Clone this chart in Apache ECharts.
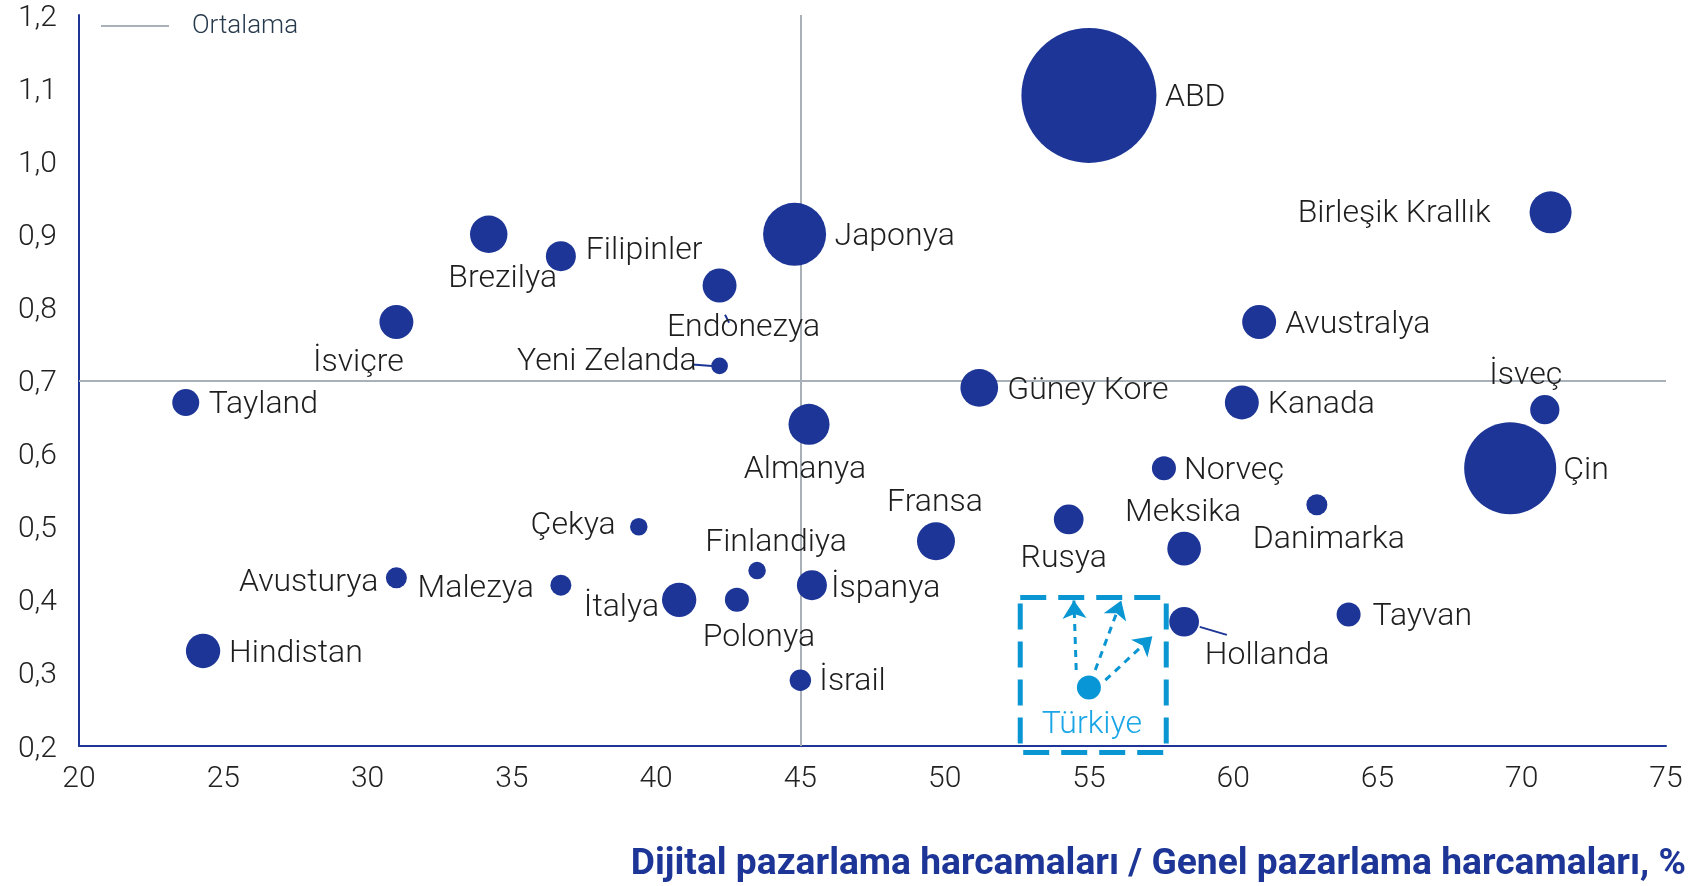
<!DOCTYPE html>
<html>
<head>
<meta charset="utf-8">
<script src="https://cdn.jsdelivr.net/npm/echarts@6/dist/echarts.min.js"></script>
<style>
html,body{margin:0;padding:0;background:#fff;}
#chart{width:1688px;height:886px;}
</style>
</head>
<body>
<div id="chart"></div>
<script>
// ---- Data ----
const countries = ['ABD','Birleşik Krallık','Japonya','Brezilya','Filipinler','Endonezya','İsviçre','Yeni Zelanda','Avustralya','Güney Kore','Tayland','Kanada','İsveç','Almanya','Çin','Norveç','Danimarka','Rusya','Meksika','Fransa','Çekya','Finlandiya','İspanya','Avusturya','Malezya','İtalya','Polonya','Tayvan','Hollanda','Hindistan','İsrail'];
const digitalShare = [55.0, 71.0, 44.8, 34.2, 36.7, 42.2, 31.0, 42.2, 60.9, 51.2, 23.7, 60.3, 70.8, 45.3, 69.6, 57.6, 62.9, 54.3, 58.3, 49.7, 39.4, 43.5, 45.4, 31.0, 36.7, 40.8, 42.8, 64.0, 58.3, 24.3, 45.0];
const yValues = [1.09, 0.93, 0.90, 0.90, 0.87, 0.83, 0.78, 0.72, 0.78, 0.69, 0.67, 0.67, 0.66, 0.64, 0.58, 0.58, 0.53, 0.51, 0.47, 0.48, 0.50, 0.44, 0.42, 0.43, 0.42, 0.40, 0.40, 0.38, 0.37, 0.33, 0.29];
const bubbleSize = [2025, 196, 441, 156, 100, 128, 128, 31, 128, 158, 81, 128, 95, 187, 940, 64, 49, 98, 126, 160, 34, 34, 100, 49, 49, 131, 64, 64, 98, 131, 51];

const turkeyName = 'Türkiye';
const turkeyValue = [55.0, 0.28, 64];

const averageX = 45;
const averageY = 0.7;

const xTicks = {min: 20, max: 75, interval: 5};
const yTicks = {min: 0.2, max: 1.2, interval: 0.1};

const xAxisTitle = 'Dijital pazarlama harcamaları / Genel pazarlama harcamaları, %';
const legendName = 'Ortalama';

// annotation geometry in data units
const turkeyBox = [52.62, 0.403, 57.68, 0.191];
const turkeyArrows = [
  [[54.56, 0.304], [54.48, 0.399]],
  [[55.22, 0.304], [56.12, 0.399]],
  [[55.57, 0.290], [57.2, 0.350]]
];
const leaderLines = [
  [[41.25, 0.722], [41.94, 0.720]],
  [[42.39, 0.790], [42.53, 0.779]],
  [[58.84, 0.363], [59.78, 0.352]]
];

// ---- label placement (style) ----
const labelDy = 2;
const labelPlace = {
  'ABD': ['left', 76, 1],
  'Birleşik Krallık': ['right', -60, 0],
  'Japonya': ['left', 40, 1],
  'Brezilya': ['center', 14, 43],
  'Filipinler': ['left', 25, -7],
  'Endonezya': ['center', 24, 41],
  'İsviçre': ['center', -38, 39],
  'Yeni Zelanda': ['right', -23, -6],
  'Avustralya': ['left', 26, 1],
  'Güney Kore': ['left', 28, 1],
  'Tayland': ['left', 23, 1],
  'Kanada': ['left', 26, 1],
  'İsveç': ['center', -19, -36],
  'Almanya': ['center', -4, 44],
  'Çin': ['left', 53, 1],
  'Norveç': ['left', 20, 1],
  'Danimarka': ['center', 12, 33],
  'Rusya': ['center', -5, 38],
  'Meksika': ['center', -1, -38],
  'Fransa': ['center', -1, -40],
  'Çekya': ['right', -23, -3],
  'Finlandiya': ['center', 19, -30],
  'İspanya': ['left', 19, 2],
  'Avusturya': ['right', -18, 3],
  'Malezya': ['right', -27, 2],
  'İtalya': ['right', -20, 6],
  'Polonya': ['center', 22, 36],
  'Tayvan': ['left', 24, 1],
  'Hollanda': ['center', 83, 32],
  'Hindistan': ['left', 26, 1],
  'İsrail': ['left', 19, 0],
  'Türkiye': ['center', 3, 35]
};

const navy = '#1c3596';
const lightBlue = '#0a96d2';
const fontFamily = 'Roboto, "Noto Sans", sans-serif';

function mkItem(name, value) {
  const p = labelPlace[name] || ['left', 20, 0];
  return {
    name: name,
    value: value,
    label: {align: p[0], offset: [p[1], p[2] + labelDy]}
  };
}

const mainData = countries.map((c, i) => mkItem(c, [digitalShare[i], yValues[i], bubbleSize[i]]));
const turkeyData = [mkItem(turkeyName, turkeyValue)];

const chart = echarts.init(document.getElementById('chart'));

const labelBase = {
  show: true,
  position: 'inside',
  verticalAlign: 'middle',
  formatter: '{b}',
  fontSize: 32,
  fontWeight: 300,
  fontFamily: fontFamily,
  color: '#1e1e1e',
  textBorderWidth: 0
};

chart.setOption({
  animation: false,
  grid: {left: 79, right: 22, top: 15, bottom: 140},
  legend: {
    data: [legendName],
    left: 96,
    top: 8,
    icon: 'rect',
    itemWidth: 68,
    itemHeight: 2,
    itemStyle: {color: '#a9b0b8'},
    textStyle: {fontSize: 26, fontWeight: 300, fontFamily: fontFamily, color: '#27394c', padding: [0, 0, 0, 18]}
  },
  xAxis: {
    type: 'value',
    min: xTicks.min, max: xTicks.max, interval: xTicks.interval,
    splitLine: {show: false},
    axisTick: {show: false},
    axisLine: {show: true, lineStyle: {color: navy, width: 2}},
    axisLabel: {fontSize: 30, fontWeight: 300, fontFamily: fontFamily, color: '#222', margin: 18}
  },
  yAxis: {
    type: 'value',
    min: yTicks.min, max: yTicks.max, interval: yTicks.interval,
    splitLine: {show: false},
    axisTick: {show: false},
    axisLine: {show: true, lineStyle: {color: navy, width: 2}},
    axisLabel: {
      margin: 22,
      formatter: v => '{t|' + v.toFixed(1).replace('.', ',') + '}',
      rich: {
        t: {fontSize: 30, fontWeight: 300, fontFamily: fontFamily, color: '#222', padding: [6, 0, 0, 0]}
      }
    }
  },
  graphic: [{
    type: 'text',
    right: 2,
    top: 846,
    style: {
      text: xAxisTitle,
      fontSize: 37.2,
      fontWeight: 'bold',
      fontFamily: fontFamily,
      fill: navy
    }
  }],
  series: [
    {
      name: legendName,
      type: 'line',
      data: [],
      z: 1,
      clip: false,
      color: '#a9b0b8',
      markLine: {
        silent: true,
        symbol: 'none',
        label: {show: false},
        lineStyle: {color: '#a9b0b8', width: 2, type: 'solid'},
        data: [{xAxis: averageX}, {yAxis: averageY}]
      }
    },
    {
      name: 'leaders',
      type: 'line',
      data: [],
      z: 2,
      clip: false,
      markLine: {
        silent: true,
        symbol: 'none',
        label: {show: false},
        lineStyle: {color: navy, width: 2, type: 'solid'},
        data: leaderLines.map(l => [{coord: l[0]}, {coord: l[1]}])
      }
    },
    {
      name: 'arrows',
      type: 'line',
      data: [],
      z: 4,
      clip: false,
      markLine: {
        silent: true,
        symbol: ['none', 'arrow'],
        symbolSize: 18,
        label: {show: false},
        lineStyle: {color: lightBlue, width: 3, type: [7, 6]},
        data: turkeyArrows.map(l => [{coord: l[0]}, {coord: l[1]}])
      }
    },
    {
      name: 'box',
      type: 'custom',
      z: 4,
      clip: false,
      data: [turkeyBox],
      renderItem: function (params, api) {
        const p1 = api.coord([api.value(0), api.value(1)]);
        const p2 = api.coord([api.value(2), api.value(3)]);
        return {
          type: 'rect',
          shape: {x: p1[0], y: p1[1], width: p2[0] - p1[0], height: p2[1] - p1[1]},
          style: {fill: 'none', stroke: lightBlue, lineWidth: 5, lineDash: [26, 12]}
        };
      }
    },
    {
      name: 'countries',
      type: 'scatter',
      z: 5,
      data: mainData,
      symbolSize: v => Math.sqrt(v[2]) * 3,
      itemStyle: {color: navy, opacity: 1},
      label: labelBase
    },
    {
      name: 'turkey',
      type: 'scatter',
      z: 6,
      data: turkeyData,
      symbolSize: v => Math.sqrt(v[2]) * 3,
      itemStyle: {color: '#0996d6', opacity: 1},
      label: Object.assign({}, labelBase, {color: '#1aa6e6'})
    }
  ]
});
</script>
</body>
</html>
